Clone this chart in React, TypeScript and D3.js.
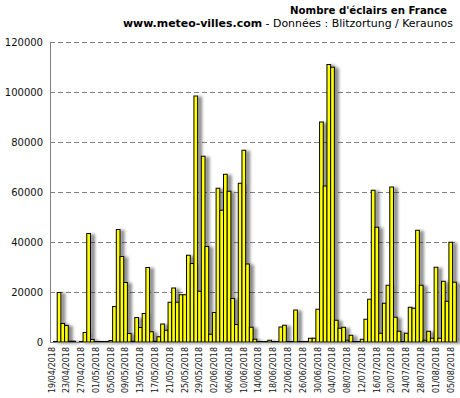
import React from "react";
import * as d3 from "d3";

// daily lightning strike counts, 19/04/2018 -> 05/08/2018
const startDay = new Date(2018, 3, 19);
const strikes = [
  200, 19800, 7400, 6600, 300, 300, 0, 200, 3800, 43400,
  1000, 200, 200, 200, 200, 600, 14200, 45000, 34200, 23800,
  3400, 300, 9800, 5800, 11400, 29800, 4100, 300, 2100, 7200,
  4700, 15900, 21600, 15900, 18900, 18900, 34700, 31400, 98400, 20300,
  74300, 38200, 3100, 11800, 61500, 52700, 67100, 60300, 17400, 7000,
  63500, 76700, 31200, 5900, 1100, 200, 200, 200, 700, 200,
  200, 6000, 6700, 200, 200, 12800, 200, 200, 200, 1500,
  1500, 13100, 88000, 62400, 111000, 109900, 8700, 5500, 5900, 700,
  2700, 200, 200, 1100, 9100, 17100, 60700, 45900, 3500, 15500,
  22700, 62000, 9900, 4300, 200, 3500, 13900, 13500, 44700, 22700,
  700, 4300, 1500, 29900, 1500, 24300, 16300, 39900, 23900,
];
const yTicks = [0, 20000, 40000, 60000, 80000, 100000, 120000];
const tickLabels = [
  "19/04/2018", "23/04/2018", "27/04/2018", "01/05/2018", "05/05/2018",
  "09/05/2018", "13/05/2018", "17/05/2018", "21/05/2018", "25/05/2018",
  "29/05/2018", "02/06/2018", "06/06/2018", "10/06/2018", "14/06/2018",
  "18/06/2018", "22/06/2018", "26/06/2018", "30/06/2018", "04/07/2018",
  "08/07/2018", "12/07/2018", "16/07/2018", "20/07/2018", "24/07/2018",
  "28/07/2018", "01/08/2018", "05/08/2018",
];

const days = d3.timeDay.range(startDay, d3.timeDay.offset(startDay, strikes.length));
const fmt = d3.timeFormat("%d/%m/%Y");

export default function App() {
  const width = 460;
  const height = 398;
  const left = 50, right = 458, top = 42, bottom = 342;
  const font = "'DejaVu Sans', Verdana, sans-serif";

  const x = d3.scaleBand<string>()
    .domain(days.map(fmt))
    .range([53.5, 456.3])
    .paddingInner(0)
    .paddingOuter(0);
  const y = d3.scaleLinear().domain([0, 120000]).range([bottom, top]);
  const bw = x.bandwidth();

  return (
    <svg width={width} height={height}
      style={{position: "absolute", left: 0, top: 0, background: "#fff"}}>
      <defs>
        <filter id="shadow" x="-10%" y="-10%" width="130%" height="130%">
          <feDropShadow dx="4" dy="1" stdDeviation="1.8"
            floodColor="#000" floodOpacity="0.45"/>
        </filter>
      </defs>

      {/* title */}
      <text x={447} y={14} textAnchor="end" fontFamily={font} fontSize={11}
        fontWeight="bold" textLength={157} lengthAdjust="spacingAndGlyphs">
        Nombre d'éclairs en France
      </text>
      <text x={123} y={27} fontFamily={font} fontSize={11}
        textLength={330} lengthAdjust="spacingAndGlyphs">
        <tspan fontWeight="bold">www.meteo-villes.com</tspan>
        <tspan> - Données : Blitzortung / Keraunos</tspan>
      </text>

      {/* grid */}
      {yTicks.filter(t => t > 0).map(t => (
        <line key={t} x1={left} x2={right} y1={Math.round(y(t)) + 0.5} y2={Math.round(y(t)) + 0.5}
          stroke="#808080" strokeDasharray="5,3"/>
      ))}
      {yTicks.map(t => (
        <text key={t} x={43} y={y(t)} dy="0.35em" textAnchor="end"
          fontFamily={font} fontSize={10} fill="#111">{t}</text>
      ))}

      {/* bars */}
      <g filter="url(#shadow)">
        {days.map((d, i) => {
          const v = strikes[i];
          const yy = y(v);
          return (
            <rect key={i} x={x(fmt(d))} y={yy} width={bw} height={bottom - yy}
              fill="#ffff00" stroke="#000" strokeWidth={1}/>
          );
        })}
      </g>

      {/* axes */}
      <line x1={left + 0.5} x2={left + 0.5} y1={top} y2={bottom + 0.5} stroke="#808080"/>
      <line x1={left} x2={right} y1={bottom + 0.5} y2={bottom + 0.5} stroke="#808080"/>

      {tickLabels.map(lbl => {
        const [dd, mm, yyyy] = lbl.split("/").map(Number);
        const pos = (x(fmt(new Date(yyyy, mm - 1, dd))) ?? 0) - 1.8;
        return (
          <text key={lbl} transform={`translate(${pos},347) rotate(-90)`}
            dy="0.35em" textAnchor="end" fontFamily={font} fontSize={8} fill="#111">
            {lbl}
          </text>
        );
      })}
    </svg>
  );
}
